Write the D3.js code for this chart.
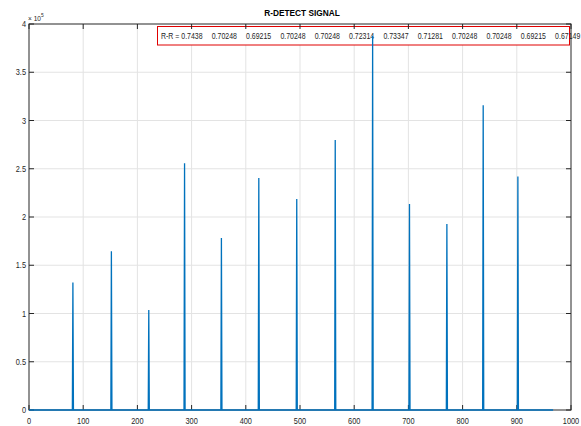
<!DOCTYPE html>
<html>
<head>
<meta charset="utf-8">
<script src="https://cdn.jsdelivr.net/npm/d3@7"></script>
<style>
  body { margin: 0; background: #fff; }
  svg { display: block; font-family: "Liberation Sans", Arial, sans-serif; }
</style>
</head>
<body>
<svg width="581" height="426"></svg>
<script>
// detected R peaks (sample index) and their amplitude
const peakIdx = [81, 152, 221, 287, 355, 424, 494, 565, 634, 702, 771, 838, 902];
const peakVal = [132000, 164500, 103600, 255600, 178200, 240400, 218700, 279800, 387900, 213500, 192700, 315700, 242000];
const signalLength = 967;
// R-R intervals (s) shown in the box
const rrValues = ["0.7438", "0.70248", "0.69215", "0.70248", "0.70248", "0.72314", "0.73347", "0.71281", "0.70248", "0.70248", "0.69215", "0.67149"];
const xTicks = [0, 100, 200, 300, 400, 500, 600, 700, 800, 900, 1000];
const yTicks = [0, 50000, 100000, 150000, 200000, 250000, 300000, 350000, 400000];

let svg = d3.select("svg"),
    pLeft = 29, pRight = 571, pTop = 24, pBottom = 410,
    ink = "#262626",
    sx = 0.82; // narrow text look

let x = d3.scaleLinear().domain([0, 1000]).range([pLeft, pRight]);
let y = d3.scaleLinear().domain([0, 400000]).range([pBottom, pTop]);

// build the signal: zero everywhere except narrow spikes at the peaks
let signal = [[0, 0]];
peakIdx.forEach((p, i) => {
    signal.push([p - 1, 0], [p, peakVal[i]], [p + 1, 0]);
});
signal.push([signalLength, 0]);

function label(g, px, py, txt, anchor, size, weight) {
    return g.append("text")
        .attr("transform", "translate(" + px + "," + py + ") scale(" + sx + ",1)")
        .attr("text-anchor", anchor)
        .attr("font-size", size)
        .attr("font-weight", weight || "normal")
        .attr("fill", ink)
        .text(txt);
}

//////////////////////////////////////////////////////////// GRID
let grid = svg.append("g");
grid.selectAll(".gx").data(xTicks.slice(1, -1)).enter().append("line")
    .attr("x1", d => x(d)).attr("x2", d => x(d))
    .attr("y1", pTop).attr("y2", pBottom)
    .attr("stroke", "#e3e3e3").attr("stroke-width", 1);
grid.selectAll(".gy").data(yTicks.slice(1, -1)).enter().append("line")
    .attr("x1", pLeft).attr("x2", pRight)
    .attr("y1", d => y(d)).attr("y2", d => y(d))
    .attr("stroke", "#e3e3e3").attr("stroke-width", 1);

//////////////////////////////////////////////////////////// R-R BOX
let box = svg.append("g");
box.append("rect")
    .attr("x", 157.5).attr("y", 26.5)
    .attr("width", 412).attr("height", 18.5)
    .attr("fill", "#fff")
    .attr("stroke", "#e00000").attr("stroke-width", 1);
label(box, 161, 38.5, "R-R = " + rrValues[0], "start", 8.5);
rrValues.slice(1).forEach((v, i) => {
    label(box, 211.7 + i * 34.34, 38.5, v, "start", 8.5);
});

//////////////////////////////////////////////////////////// AXES (box with inward ticks)
let axes = svg.append("g");
axes.append("rect")
    .attr("x", pLeft).attr("y", pTop)
    .attr("width", pRight - pLeft).attr("height", pBottom - pTop)
    .attr("fill", "none").attr("stroke", ink).attr("stroke-width", 1);

let tl = 5;
xTicks.forEach(t => {
    axes.append("line").attr("x1", x(t)).attr("x2", x(t)).attr("y1", pBottom).attr("y2", pBottom - tl).attr("stroke", ink);
    axes.append("line").attr("x1", x(t)).attr("x2", x(t)).attr("y1", pTop).attr("y2", pTop + tl).attr("stroke", ink);
    label(axes, x(t), pBottom + 14, d3.format("d")(t), "middle", 9);
});
yTicks.forEach(t => {
    axes.append("line").attr("x1", pLeft).attr("x2", pLeft + tl).attr("y1", y(t)).attr("y2", y(t)).attr("stroke", ink);
    axes.append("line").attr("x1", pRight).attr("x2", pRight - tl).attr("y1", y(t)).attr("y2", y(t)).attr("stroke", ink);
    label(axes, pLeft - 3, y(t) + 3, d3.format("~g")(t / 1e5), "end", 9);
});

// exponent marker
let ex = label(axes, pLeft - 1, pTop - 3, "× 10", "start", 8);
ex.append("tspan").attr("font-size", 6).attr("dy", -4).text("5");

//////////////////////////////////////////////////////////// SIGNAL
let line = d3.line().x(d => x(d[0])).y(d => y(d[1]));
svg.append("path")
    .datum(signal)
    .attr("d", line)
    .attr("fill", "none")
    .attr("stroke", "#0072BD")
    .attr("stroke-width", 1.3);

//////////////////////////////////////////////////////////// TITLE
svg.append("text")
    .attr("x", 302).attr("y", 16)
    .attr("text-anchor", "middle")
    .attr("font-size", 8.3)
    .attr("font-weight", "bold")
    .attr("fill", "#000")
    .text("R-DETECT SIGNAL");
</script>
</body>
</html>
